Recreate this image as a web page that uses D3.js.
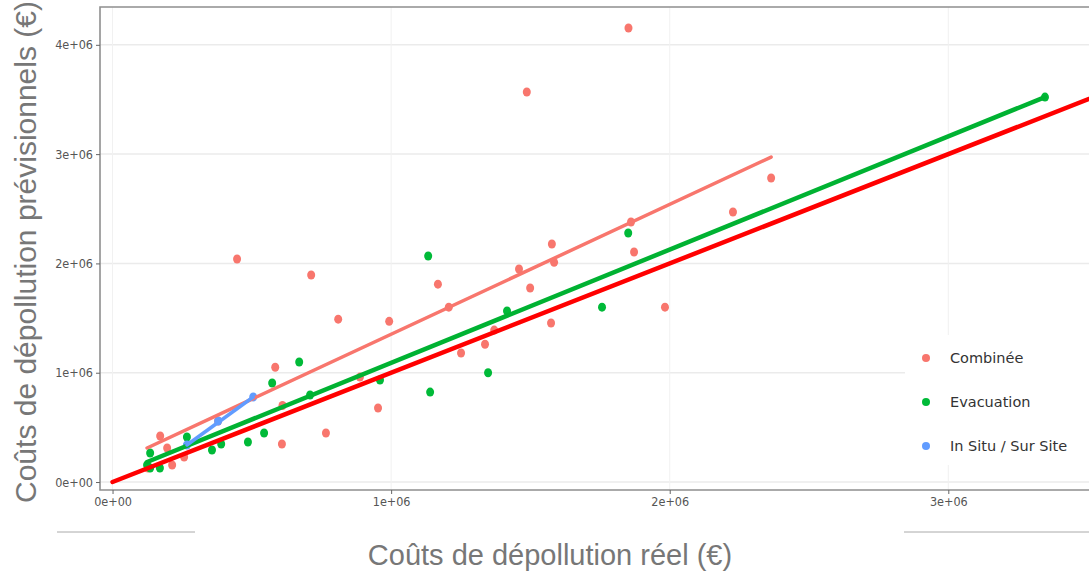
<!DOCTYPE html>
<html lang="fr">
    <head>
        <meta charset="utf-8">
        <title>Coûts de dépollution</title>
        <script src="https://d3js.org/d3.v7.min.js"></script>
        <style type="text/css">
            body { margin: 0; background: #fff; }
        </style>
    </head>
    <body>
        <script>
            // data (euros)
            var combX = [1.852e6, 1.487e6, 0.447e6, 0.713e6, 0.810e6, 0.993e6, 1.168e6, 1.207e6, 0.584e6, 0.888e6,
                         0.608e6, 0.766e6, 0.953e6, 0.610e6, 1.251e6, 1.337e6, 1.370e6, 1.459e6, 1.499e6, 1.577e6,
                         1.585e6, 1.574e6, 1.872e6, 1.861e6, 1.983e6, 2.227e6, 2.364e6, 0.171e6, 0.196e6, 0.214e6,
                         0.257e6, 0.127e6, 0.379e6];
            var combY = [4.154e6, 3.568e6, 2.040e6, 1.894e6, 1.490e6, 1.470e6, 1.810e6, 1.600e6, 1.050e6, 0.960e6,
                         0.348e6, 0.448e6, 0.677e6, 0.700e6, 1.180e6, 1.260e6, 1.390e6, 1.949e6, 1.775e6, 2.178e6,
                         2.010e6, 1.455e6, 2.104e6, 2.379e6, 1.600e6, 2.470e6, 2.781e6, 0.421e6, 0.311e6, 0.156e6,
                         0.229e6, 0.128e6, 0.558e6];

            var evacX = [3.347e6, 1.851e6, 1.757e6, 1.416e6, 1.348e6, 1.140e6, 1.133e6, 0.960e6, 0.709e6, 0.670e6,
                         0.573e6, 0.544e6, 0.486e6, 0.390e6, 0.357e6, 0.267e6, 0.135e6, 0.135e6, 0.170e6, 0.124e6];
            var evacY = [3.522e6, 2.278e6, 1.600e6, 1.565e6, 1.000e6, 0.823e6, 2.068e6, 0.933e6, 0.796e6, 1.098e6,
                         0.906e6, 0.448e6, 0.366e6, 0.348e6, 0.293e6, 0.412e6, 0.265e6, 0.128e6, 0.128e6, 0.156e6];

            var insituX = [0.267e6, 0.379e6, 0.505e6];
            var insituY = [0.339e6, 0.558e6, 0.778e6];

            // fitted lines, start and end
            var combFitX = [0.124e6, 2.364e6];
            var combFitY = [0.311e6, 2.973e6];
            var evacFitX = [0.124e6, 3.347e6];
            var evacFitY = [0.183e6, 3.522e6];
            var insituFitX = [0.267e6, 0.505e6];
            var insituFitY = [0.339e6, 0.778e6];
            var refX = [0, 4e6];
            var refY = [0, 4e6];

            var xTicks = [0, 1e6, 2e6, 3e6];
            var yTicks = [0, 1e6, 2e6, 3e6, 4e6];
            var seriesNames = ["Combinée", "Evacuation", "In Situ / Sur Site"];
            var seriesColors = ["#F8766D", "#00BA38", "#619CFF"];

            // layout
            var outerWidth = 1089;
            var outerHeight = 572;
            var panelLeft = 100, panelRight = 1089, panelTop = 7, panelBottom = 490;

            var svg = d3.select("body")
                        .append("svg")
                        .attr("width", outerWidth)
                        .attr("height", outerHeight)
                        .style("font-family", "'Liberation Sans', Arial, sans-serif");

            var xScale = d3.scaleLinear().domain([-0.045e6, 3.505e6]).range([panelLeft, panelRight]);
            var yScale = d3.scaleLinear().domain([-0.073e6, 4.346e6]).range([panelBottom, panelTop]);

            var sci = function (d) {
                return d3.format(".0e")(d).replace(/e([+-])(\d)$/, "e$10$2");
            };

            svg.append("clipPath").attr("id", "panel")
                .append("rect")
                .attr("x", panelLeft).attr("y", panelTop)
                .attr("width", panelRight - panelLeft).attr("height", panelBottom - panelTop);

            // grid
            var grid = svg.append("g");
            grid.selectAll("line.h").data(yTicks).enter().append("line")
                .attr("x1", panelLeft).attr("x2", panelRight)
                .attr("y1", function (d) { return yScale(d); })
                .attr("y2", function (d) { return yScale(d); })
                .attr("stroke", "#ebebeb").attr("stroke-width", 1.5);
            grid.selectAll("line.v").data(xTicks).enter().append("line")
                .attr("y1", panelTop).attr("y2", panelBottom)
                .attr("x1", function (d) { return xScale(d); })
                .attr("x2", function (d) { return xScale(d); })
                .attr("stroke", "#f1f1f1").attr("stroke-width", 1);

            // panel border
            svg.append("path")
                .attr("d", "M" + panelRight + "," + panelTop + "H" + panelLeft + "V" + panelBottom + "H" + panelRight)
                .attr("fill", "none").attr("stroke", "#8f8f8f").attr("stroke-width", 1.6);

            // axes
            var xAxis = svg.append("g")
                .attr("transform", "translate(0," + panelBottom + ")")
                .call(d3.axisBottom(xScale).tickValues(xTicks).tickFormat(sci).tickSize(4).tickPadding(3));
            var yAxis = svg.append("g")
                .attr("transform", "translate(" + panelLeft + ",0)")
                .call(d3.axisLeft(yScale).tickValues(yTicks).tickFormat(sci).tickSize(4).tickPadding(3));
            [xAxis, yAxis].forEach(function (a) {
                a.select(".domain").remove();
                a.selectAll(".tick line").attr("stroke", "#666");
                a.selectAll(".tick text")
                    .attr("fill", "#555")
                    .style("font-family", "'Liberation Sans Narrow', 'DejaVu Sans Condensed', sans-serif")
                    .style("font-stretch", "condensed")
                    .style("font-size", "12.5px");
            });

            // stray rules under the tick labels
            svg.append("line").attr("x1", 57).attr("x2", 195).attr("y1", 532).attr("y2", 532)
                .attr("stroke", "#aaa").attr("stroke-width", 1);
            svg.append("line").attr("x1", 904).attr("x2", 1089).attr("y1", 532).attr("y2", 532)
                .attr("stroke", "#aaa").attr("stroke-width", 1);

            var plot = svg.append("g").attr("clip-path", "url(#panel)");

            function drawPoints(xs, ys, color) {
                plot.append("g").selectAll("ellipse")
                    .data(d3.zip(xs, ys)).enter().append("ellipse")
                    .attr("cx", function (d) { return xScale(d[0]); })
                    .attr("cy", function (d) { return yScale(d[1]); })
                    .attr("rx", 4)
                    .attr("ry", 4.5)
                    .attr("fill", color);
            }
            drawPoints(combX, combY, seriesColors[0]);
            drawPoints(evacX, evacY, seriesColors[1]);
            drawPoints(insituX, insituY, seriesColors[2]);

            var line = d3.line()
                .x(function (d) { return xScale(d[0]); })
                .y(function (d) { return yScale(d[1]); });

            function drawLine(xs, ys, color, w) {
                plot.append("path")
                    .datum(d3.zip(xs, ys))
                    .attr("d", line)
                    .attr("fill", "none")
                    .attr("stroke", color)
                    .attr("stroke-width", w)
                    .attr("stroke-linecap", "round");
            }
            drawLine(combFitX, combFitY, "#F8766D", 3.5);
            drawLine(evacFitX, evacFitY, "#00B232", 4.5);
            drawLine(insituFitX, insituFitY, "#619CFF", 3.5);
            drawLine(refX, refY, "#FF0000", 4.5);

            // legend
            var legend = svg.append("g");
            legend.append("rect")
                .attr("x", 905).attr("y", 335).attr("width", 184).attr("height", 130)
                .attr("fill", "#fff");
            seriesNames.forEach(function (name, i) {
                var yy = 358 + i * 44;
                legend.append("circle").attr("cx", 926).attr("cy", yy).attr("r", 4)
                    .attr("fill", seriesColors[i]);
                legend.append("text").attr("x", 950).attr("y", yy + 5)
                    .attr("fill", "#333")
                    .style("font-family", "'DejaVu Sans', Verdana, sans-serif")
                    .style("font-size", "14.5px")
                    .text(name);
            });

            // axis titles
            svg.append("text")
                .attr("x", 550).attr("y", 565)
                .attr("text-anchor", "middle")
                .attr("fill", "#777")
                .style("font-size", "29px")
                .text("Coûts de dépollution réel (€)");
            svg.append("text")
                .attr("transform", "translate(36,252) rotate(-90)")
                .attr("text-anchor", "middle")
                .attr("fill", "#777")
                .style("font-size", "30px")
                .text("Coûts de dépollution prévisionnels (€)");
        </script>
    </body>
</html>
